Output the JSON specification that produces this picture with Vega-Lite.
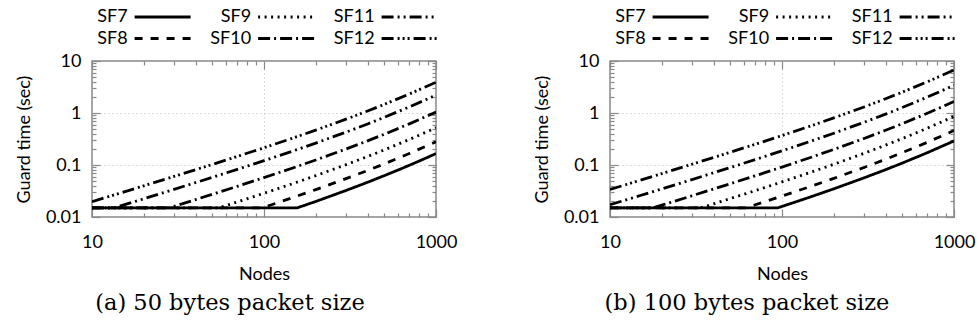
{
  "$schema": "https://vega.github.io/schema/vega-lite/v6.json",
  "background": "white",
  "padding": {"left": 14, "top": 7, "right": 0, "bottom": 0},
  "spacing": 74,
  "datasets": {
    "a": [
      {"sf": "SF7", "n": 10, "t": 0.015}, {"sf": "SF7", "n": 156, "t": 0.015}, {"sf": "SF7", "n": 200, "t": 0.0199}, {"sf": "SF7", "n": 300, "t": 0.0324}, {"sf": "SF7", "n": 400, "t": 0.0465}, {"sf": "SF7", "n": 500, "t": 0.0623}, {"sf": "SF7", "n": 600, "t": 0.0797}, {"sf": "SF7", "n": 700, "t": 0.0988}, {"sf": "SF7", "n": 800, "t": 0.1195}, {"sf": "SF7", "n": 900, "t": 0.1419}, {"sf": "SF7", "n": 1000, "t": 0.166},
      {"sf": "SF8", "n": 10, "t": 0.015}, {"sf": "SF8", "n": 97.6, "t": 0.015}, {"sf": "SF8", "n": 120, "t": 0.0188}, {"sf": "SF8", "n": 150, "t": 0.0242}, {"sf": "SF8", "n": 200, "t": 0.0336}, {"sf": "SF8", "n": 300, "t": 0.0546}, {"sf": "SF8", "n": 400, "t": 0.0784}, {"sf": "SF8", "n": 500, "t": 0.105}, {"sf": "SF8", "n": 700, "t": 0.1666}, {"sf": "SF8", "n": 1000, "t": 0.28},
      {"sf": "SF9", "n": 10, "t": 0.015}, {"sf": "SF9", "n": 54.7, "t": 0.015}, {"sf": "SF9", "n": 70, "t": 0.0195}, {"sf": "SF9", "n": 100, "t": 0.0286}, {"sf": "SF9", "n": 150, "t": 0.0449}, {"sf": "SF9", "n": 200, "t": 0.0624}, {"sf": "SF9", "n": 300, "t": 0.1014}, {"sf": "SF9", "n": 400, "t": 0.1456}, {"sf": "SF9", "n": 500, "t": 0.195}, {"sf": "SF9", "n": 700, "t": 0.3094}, {"sf": "SF9", "n": 1000, "t": 0.52},
      {"sf": "SF10", "n": 10, "t": 0.015}, {"sf": "SF10", "n": 28.1, "t": 0.015}, {"sf": "SF10", "n": 40, "t": 0.0216}, {"sf": "SF10", "n": 50, "t": 0.0273}, {"sf": "SF10", "n": 70, "t": 0.0389}, {"sf": "SF10", "n": 100, "t": 0.0572}, {"sf": "SF10", "n": 150, "t": 0.0897}, {"sf": "SF10", "n": 200, "t": 0.1248}, {"sf": "SF10", "n": 300, "t": 0.2028}, {"sf": "SF10", "n": 400, "t": 0.2912}, {"sf": "SF10", "n": 500, "t": 0.39}, {"sf": "SF10", "n": 700, "t": 0.6188}, {"sf": "SF10", "n": 1000, "t": 1.04},
      {"sf": "SF11", "n": 10, "t": 0.015}, {"sf": "SF11", "n": 13.5, "t": 0.015}, {"sf": "SF11", "n": 20, "t": 0.0224}, {"sf": "SF11", "n": 30, "t": 0.034}, {"sf": "SF11", "n": 50, "t": 0.0578}, {"sf": "SF11", "n": 70, "t": 0.0824}, {"sf": "SF11", "n": 100, "t": 0.121}, {"sf": "SF11", "n": 150, "t": 0.1898}, {"sf": "SF11", "n": 200, "t": 0.264}, {"sf": "SF11", "n": 300, "t": 0.429}, {"sf": "SF11", "n": 400, "t": 0.616}, {"sf": "SF11", "n": 500, "t": 0.825}, {"sf": "SF11", "n": 700, "t": 1.309}, {"sf": "SF11", "n": 1000, "t": 2.2},
      {"sf": "SF12", "n": 10, "t": 0.0197}, {"sf": "SF12", "n": 15, "t": 0.0297}, {"sf": "SF12", "n": 20, "t": 0.0398}, {"sf": "SF12", "n": 30, "t": 0.0603}, {"sf": "SF12", "n": 50, "t": 0.1024}, {"sf": "SF12", "n": 70, "t": 0.1461}, {"sf": "SF12", "n": 100, "t": 0.2145}, {"sf": "SF12", "n": 150, "t": 0.3364}, {"sf": "SF12", "n": 200, "t": 0.468}, {"sf": "SF12", "n": 300, "t": 0.7605}, {"sf": "SF12", "n": 400, "t": 1.092}, {"sf": "SF12", "n": 500, "t": 1.4625}, {"sf": "SF12", "n": 700, "t": 2.3205}, {"sf": "SF12", "n": 1000, "t": 3.9}
    ],
    "b": [
      {"sf": "SF7", "n": 10, "t": 0.015}, {"sf": "SF7", "n": 94.5, "t": 0.015}, {"sf": "SF7", "n": 120, "t": 0.0195}, {"sf": "SF7", "n": 150, "t": 0.025}, {"sf": "SF7", "n": 200, "t": 0.0348}, {"sf": "SF7", "n": 300, "t": 0.0566}, {"sf": "SF7", "n": 400, "t": 0.0812}, {"sf": "SF7", "n": 500, "t": 0.1088}, {"sf": "SF7", "n": 700, "t": 0.1726}, {"sf": "SF7", "n": 1000, "t": 0.29},
      {"sf": "SF8", "n": 10, "t": 0.015}, {"sf": "SF8", "n": 61.4, "t": 0.015}, {"sf": "SF8", "n": 70, "t": 0.0172}, {"sf": "SF8", "n": 100, "t": 0.0253}, {"sf": "SF8", "n": 150, "t": 0.0397}, {"sf": "SF8", "n": 200, "t": 0.0552}, {"sf": "SF8", "n": 300, "t": 0.0897}, {"sf": "SF8", "n": 400, "t": 0.1288}, {"sf": "SF8", "n": 500, "t": 0.1725}, {"sf": "SF8", "n": 700, "t": 0.2737}, {"sf": "SF8", "n": 1000, "t": 0.46},
      {"sf": "SF9", "n": 10, "t": 0.015}, {"sf": "SF9", "n": 33.7, "t": 0.015}, {"sf": "SF9", "n": 40, "t": 0.0179}, {"sf": "SF9", "n": 50, "t": 0.0226}, {"sf": "SF9", "n": 70, "t": 0.0322}, {"sf": "SF9", "n": 100, "t": 0.0473}, {"sf": "SF9", "n": 150, "t": 0.0742}, {"sf": "SF9", "n": 200, "t": 0.1032}, {"sf": "SF9", "n": 300, "t": 0.1677}, {"sf": "SF9", "n": 400, "t": 0.2408}, {"sf": "SF9", "n": 500, "t": 0.3225}, {"sf": "SF9", "n": 700, "t": 0.5117}, {"sf": "SF9", "n": 1000, "t": 0.86},
      {"sf": "SF10", "n": 10, "t": 0.015}, {"sf": "SF10", "n": 17.8, "t": 0.015}, {"sf": "SF10", "n": 20, "t": 0.0169}, {"sf": "SF10", "n": 30, "t": 0.0256}, {"sf": "SF10", "n": 50, "t": 0.0436}, {"sf": "SF10", "n": 70, "t": 0.0622}, {"sf": "SF10", "n": 100, "t": 0.0913}, {"sf": "SF10", "n": 150, "t": 0.1432}, {"sf": "SF10", "n": 200, "t": 0.1992}, {"sf": "SF10", "n": 300, "t": 0.3237}, {"sf": "SF10", "n": 400, "t": 0.4648}, {"sf": "SF10", "n": 500, "t": 0.6225}, {"sf": "SF10", "n": 700, "t": 0.9877}, {"sf": "SF10", "n": 1000, "t": 1.66},
      {"sf": "SF11", "n": 10, "t": 0.0172}, {"sf": "SF11", "n": 15, "t": 0.0259}, {"sf": "SF11", "n": 20, "t": 0.0347}, {"sf": "SF11", "n": 30, "t": 0.0525}, {"sf": "SF11", "n": 50, "t": 0.0893}, {"sf": "SF11", "n": 70, "t": 0.1273}, {"sf": "SF11", "n": 100, "t": 0.187}, {"sf": "SF11", "n": 150, "t": 0.2933}, {"sf": "SF11", "n": 200, "t": 0.408}, {"sf": "SF11", "n": 300, "t": 0.663}, {"sf": "SF11", "n": 400, "t": 0.952}, {"sf": "SF11", "n": 500, "t": 1.275}, {"sf": "SF11", "n": 700, "t": 2.023}, {"sf": "SF11", "n": 1000, "t": 3.4},
      {"sf": "SF12", "n": 10, "t": 0.0338}, {"sf": "SF12", "n": 15, "t": 0.051}, {"sf": "SF12", "n": 20, "t": 0.0683}, {"sf": "SF12", "n": 30, "t": 0.1035}, {"sf": "SF12", "n": 50, "t": 0.1759}, {"sf": "SF12", "n": 70, "t": 0.2509}, {"sf": "SF12", "n": 100, "t": 0.3685}, {"sf": "SF12", "n": 150, "t": 0.5779}, {"sf": "SF12", "n": 200, "t": 0.804}, {"sf": "SF12", "n": 300, "t": 1.3065}, {"sf": "SF12", "n": 400, "t": 1.876}, {"sf": "SF12", "n": 500, "t": 2.5125}, {"sf": "SF12", "n": 700, "t": 3.9865}, {"sf": "SF12", "n": 1000, "t": 6.7}
    ]
  },
  "resolve": {
    "scale": {"x": "independent", "y": "independent", "strokeDash": "independent"},
    "legend": {"strokeDash": "independent"}
  },
  "hconcat": [
    {
      "width": 344, "height": 156,
      "data": {"name": "a"},
      "title": {"text": "(a) 50 bytes packet size", "orient": "bottom", "anchor": "middle", "dx": -34, "font": "DejaVu Serif", "fontSize": 22.5, "fontWeight": "normal", "color": "black", "offset": 9},
      "resolve": {"axis": {"x": "independent", "y": "independent"}},
      "layer": [
        {
          "mark": {"type": "line", "color": "black", "strokeWidth": 2.8, "clip": true},
          "encoding": {
            "x": {"field": "n", "type": "quantitative", "scale": {"type": "log", "domain": [10, 1000], "nice": false},
              "axis": {"orient": "bottom", "values": [10, 20, 30, 40, 50, 60, 70, 80, 90, 100, 200, 300, 400, 500, 600, 700, 800, 900, 1000],
                "labelExpr": "indexof([10, 100, 1000], datum.value) >= 0 ? '' + datum.value : ''",
                "tickSize": {"condition": {"test": "indexof([10, 100, 1000], datum.value) >= 0", "value": -8}, "value": -4},
                "tickColor": "#888", "tickWidth": 1.2, "domain": false,
                "grid": true, "gridColor": "#bbb", "gridDash": [1, 3], "gridWidth": 1,
                "gridOpacity": {"condition": {"test": "datum.value == 100", "value": 1}, "value": 0},
                "labelFont": "Lato", "labelFontSize": 18, "labelColor": "black", "labelPadding": 24, "labelFlush": false, "labelOverlap": false,
                "title": "Nodes", "titleFont": "Lato", "titleFontSize": 18, "titleFontWeight": "normal", "titleColor": "black", "titlePadding": 10}},
            "y": {"field": "t", "type": "quantitative", "scale": {"type": "log", "domain": [0.01, 10], "nice": false},
              "axis": {"orient": "left", "values": [0.01, 0.02, 0.03, 0.04, 0.05, 0.06, 0.07, 0.08, 0.09, 0.1, 0.2, 0.3, 0.4, 0.5, 0.6, 0.7, 0.8, 0.9, 1, 2, 3, 4, 5, 6, 7, 8, 9, 10],
                "labelExpr": "indexof([0.01, 0.1, 1, 10], datum.value) >= 0 ? '' + datum.value : ''",
                "tickSize": {"condition": {"test": "indexof([0.01, 0.1, 1, 10], datum.value) >= 0", "value": -8}, "value": -4},
                "tickColor": "#888", "tickWidth": 1.2, "domain": false,
                "grid": true, "gridColor": "#bbb", "gridDash": [1, 3], "gridWidth": 1,
                "gridOpacity": {"condition": {"test": "datum.value == 0.1 || datum.value == 1", "value": 1}, "value": 0},
                "labelFont": "Lato", "labelFontSize": 18, "labelColor": "black", "labelPadding": 19, "labelOverlap": false, "labelFlush": false,
                "title": "Guard time (sec)", "titleFont": "Lato", "titleFontSize": 18, "titleFontWeight": "normal", "titleColor": "black", "titlePadding": 12}},
            "strokeDash": {"field": "sf", "type": "nominal",
              "scale": {"domain": ["SF7", "SF9", "SF11", "SF8", "SF10", "SF12"], "range": [[1, 0], [2, 4.5], [12, 4, 2, 4, 2, 4], [8, 8], [12, 4, 2, 4], [12, 4, 2, 3, 2, 3, 2, 4]]},
              "legend": {"orient": "none", "legendX": -2.4, "legendY": -53, "direction": "horizontal", "columns": 3, "title": null,
                "symbolType": "M-5.6,0L5.6,0", "symbolSize": 100, "symbolStrokeWidth": 2.8, "symbolStrokeColor": "black",
                "labelFont": "Lato", "labelFontSize": 18, "labelColor": "black", "columnPadding": 13.5, "rowPadding": 3.5,
                "encode": {"labels": {"update": {"x": {"value": 38}, "align": {"value": "right"}}}, "symbols": {"update": {"x": {"value": 73}}}}}}
          }
        },
        {
          "mark": {"type": "point", "opacity": 0},
          "encoding": {
            "x": {"field": "n", "type": "quantitative", "scale": {"type": "log", "domain": [10, 1000], "nice": false},
              "axis": {"orient": "top", "values": [10, 20, 30, 40, 50, 60, 70, 80, 90, 100, 200, 300, 400, 500, 600, 700, 800, 900, 1000], "labels": false, "title": null, "grid": false, "domain": false,
                "tickSize": {"condition": {"test": "indexof([10, 100, 1000], datum.value) >= 0", "value": -8}, "value": -4}, "tickColor": "#888", "tickWidth": 1.2}},
            "y": {"field": "t", "type": "quantitative", "scale": {"type": "log", "domain": [0.01, 10], "nice": false},
              "axis": {"orient": "right", "values": [0.01, 0.02, 0.03, 0.04, 0.05, 0.06, 0.07, 0.08, 0.09, 0.1, 0.2, 0.3, 0.4, 0.5, 0.6, 0.7, 0.8, 0.9, 1, 2, 3, 4, 5, 6, 7, 8, 9, 10], "labels": false, "title": null, "grid": false, "domain": false,
                "tickSize": {"condition": {"test": "indexof([0.01, 0.1, 1, 10], datum.value) >= 0", "value": -8}, "value": -4}, "tickColor": "#888", "tickWidth": 1.2}}
          }
        }
      ]
    },
    {
      "width": 344, "height": 156,
      "data": {"name": "b"},
      "title": {"text": "(b) 100 bytes packet size", "orient": "bottom", "anchor": "middle", "dx": -35, "font": "DejaVu Serif", "fontSize": 22.5, "fontWeight": "normal", "color": "black", "offset": 9},
      "resolve": {"axis": {"x": "independent", "y": "independent"}},
      "layer": [
        {
          "mark": {"type": "line", "color": "black", "strokeWidth": 2.8, "clip": true},
          "encoding": {
            "x": {"field": "n", "type": "quantitative", "scale": {"type": "log", "domain": [10, 1000], "nice": false},
              "axis": {"orient": "bottom", "values": [10, 20, 30, 40, 50, 60, 70, 80, 90, 100, 200, 300, 400, 500, 600, 700, 800, 900, 1000],
                "labelExpr": "indexof([10, 100, 1000], datum.value) >= 0 ? '' + datum.value : ''",
                "tickSize": {"condition": {"test": "indexof([10, 100, 1000], datum.value) >= 0", "value": -8}, "value": -4},
                "tickColor": "#888", "tickWidth": 1.2, "domain": false,
                "grid": true, "gridColor": "#bbb", "gridDash": [1, 3], "gridWidth": 1,
                "gridOpacity": {"condition": {"test": "datum.value == 100", "value": 1}, "value": 0},
                "labelFont": "Lato", "labelFontSize": 18, "labelColor": "black", "labelPadding": 24, "labelFlush": false, "labelOverlap": false,
                "title": "Nodes", "titleFont": "Lato", "titleFontSize": 18, "titleFontWeight": "normal", "titleColor": "black", "titlePadding": 10}},
            "y": {"field": "t", "type": "quantitative", "scale": {"type": "log", "domain": [0.01, 10], "nice": false},
              "axis": {"orient": "left", "values": [0.01, 0.02, 0.03, 0.04, 0.05, 0.06, 0.07, 0.08, 0.09, 0.1, 0.2, 0.3, 0.4, 0.5, 0.6, 0.7, 0.8, 0.9, 1, 2, 3, 4, 5, 6, 7, 8, 9, 10],
                "labelExpr": "indexof([0.01, 0.1, 1, 10], datum.value) >= 0 ? '' + datum.value : ''",
                "tickSize": {"condition": {"test": "indexof([0.01, 0.1, 1, 10], datum.value) >= 0", "value": -8}, "value": -4},
                "tickColor": "#888", "tickWidth": 1.2, "domain": false,
                "grid": true, "gridColor": "#bbb", "gridDash": [1, 3], "gridWidth": 1,
                "gridOpacity": {"condition": {"test": "datum.value == 0.1 || datum.value == 1", "value": 1}, "value": 0},
                "labelFont": "Lato", "labelFontSize": 18, "labelColor": "black", "labelPadding": 19, "labelOverlap": false, "labelFlush": false,
                "title": "Guard time (sec)", "titleFont": "Lato", "titleFontSize": 18, "titleFontWeight": "normal", "titleColor": "black", "titlePadding": 12}},
            "strokeDash": {"field": "sf", "type": "nominal",
              "scale": {"domain": ["SF7", "SF9", "SF11", "SF8", "SF10", "SF12"], "range": [[1, 0], [2, 4.5], [12, 4, 2, 4, 2, 4], [8, 8], [12, 4, 2, 4], [12, 4, 2, 3, 2, 3, 2, 4]]},
              "legend": {"orient": "none", "legendX": -2.4, "legendY": -53, "direction": "horizontal", "columns": 3, "title": null,
                "symbolType": "M-5.6,0L5.6,0", "symbolSize": 100, "symbolStrokeWidth": 2.8, "symbolStrokeColor": "black",
                "labelFont": "Lato", "labelFontSize": 18, "labelColor": "black", "columnPadding": 13.5, "rowPadding": 3.5,
                "encode": {"labels": {"update": {"x": {"value": 38}, "align": {"value": "right"}}}, "symbols": {"update": {"x": {"value": 73}}}}}}
          }
        },
        {
          "mark": {"type": "point", "opacity": 0},
          "encoding": {
            "x": {"field": "n", "type": "quantitative", "scale": {"type": "log", "domain": [10, 1000], "nice": false},
              "axis": {"orient": "top", "values": [10, 20, 30, 40, 50, 60, 70, 80, 90, 100, 200, 300, 400, 500, 600, 700, 800, 900, 1000], "labels": false, "title": null, "grid": false, "domain": false,
                "tickSize": {"condition": {"test": "indexof([10, 100, 1000], datum.value) >= 0", "value": -8}, "value": -4}, "tickColor": "#888", "tickWidth": 1.2}},
            "y": {"field": "t", "type": "quantitative", "scale": {"type": "log", "domain": [0.01, 10], "nice": false},
              "axis": {"orient": "right", "values": [0.01, 0.02, 0.03, 0.04, 0.05, 0.06, 0.07, 0.08, 0.09, 0.1, 0.2, 0.3, 0.4, 0.5, 0.6, 0.7, 0.8, 0.9, 1, 2, 3, 4, 5, 6, 7, 8, 9, 10], "labels": false, "title": null, "grid": false, "domain": false,
                "tickSize": {"condition": {"test": "indexof([0.01, 0.1, 1, 10], datum.value) >= 0", "value": -8}, "value": -4}, "tickColor": "#888", "tickWidth": 1.2}}
          }
        }
      ]
    }
  ],
  "config": {
    "view": {"stroke": "#888", "strokeWidth": 1.5},
    "font": "Lato"
  }
}
